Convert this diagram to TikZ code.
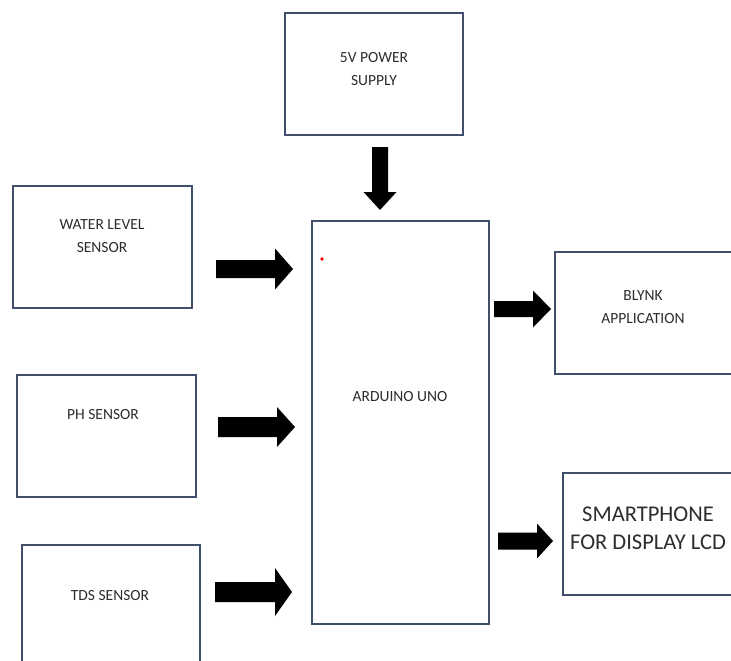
\documentclass[tikz,border=0pt]{standalone}
\usepackage{fontspec}
\setmainfont{Carlito}
\definecolor{boxline}{RGB}{64,80,108}
\definecolor{txt}{RGB}{45,45,45}
\newcommand\harr[6]{\fill[black] (#1,{#4-#5}) -- (#2,{#4-#5}) -- (#2,{#4-#6}) -- (#3,#4) -- (#2,{#4+#6}) -- (#2,{#4+#5}) -- (#1,{#4+#5}) -- cycle;}
\newcommand\varr[6]{\fill[black] ({#4-#5},#1) -- ({#4-#5},#2) -- ({#4-#6},#2) -- (#4,#3) -- ({#4+#6},#2) -- ({#4+#5},#2) -- ({#4+#5},#1) -- cycle;}
\begin{document}
\begin{tikzpicture}[x=1pt,y=-1pt,
  blk/.style={draw=boxline,line width=1.6pt,fill=white,inner sep=0pt},
  lbl/.style={font=\fontsize{15.5}{23}\selectfont,text=txt,align=center,inner sep=0pt},
  biglbl/.style={font=\fontsize{22.5}{27.5}\selectfont,text=txt,align=center,inner sep=0pt}]
\clip (0,0) rectangle (731,661);
\fill[white] (0,0) rectangle (731,661);
% boxes
\node[blk,minimum width=178pt,minimum height=122pt] (power) at (374,74) {};
\node[blk,minimum width=179pt,minimum height=122pt] (water) at (102.5,247) {};
\node[blk,minimum width=179pt,minimum height=122pt] (ph) at (106.5,436) {};
\node[blk,minimum width=178pt,minimum height=122pt] (tds) at (111,606) {};
\node[blk,minimum width=177pt,minimum height=403pt] (uno) at (400.5,422.5) {};
\node[blk,minimum width=177pt,minimum height=122pt] (blynk) at (643.5,313) {};
\node[blk,minimum width=177pt,minimum height=122pt] (phone) at (651.5,534) {};
% labels
\node[lbl] (powert) at (374,69) {5V POWER\\SUPPLY};
\node[lbl] (watert) at (102,236) {WATER LEVEL\\SENSOR};
\node[lbl] (pht) at (103,415) {PH SENSOR};
\node[lbl] (tdst) at (110,596) {TDS SENSOR};
\node[lbl] (unot) at (400,397) {ARDUINO UNO};
\node[lbl] (blynkt) at (643,307) {BLYNK\\APPLICATION};
\node[biglbl] (phonet) at (648,528.5) {SMARTPHONE\\FOR DISPLAY LCD};
% red dot
\fill[red] (322,259) circle (1.8pt);
% block arrows
\varr{147}{192}{210}{380}{8}{16.5}
\harr{216}{275}{293}{269}{9}{20.5}
\harr{218}{277}{295}{427}{10}{20}
\harr{215}{275}{292}{592}{10}{24}
\harr{494}{533}{551}{309}{8}{18.5}
\harr{498}{537}{553}{541}{8.5}{17.5}
\end{tikzpicture}
\end{document}
